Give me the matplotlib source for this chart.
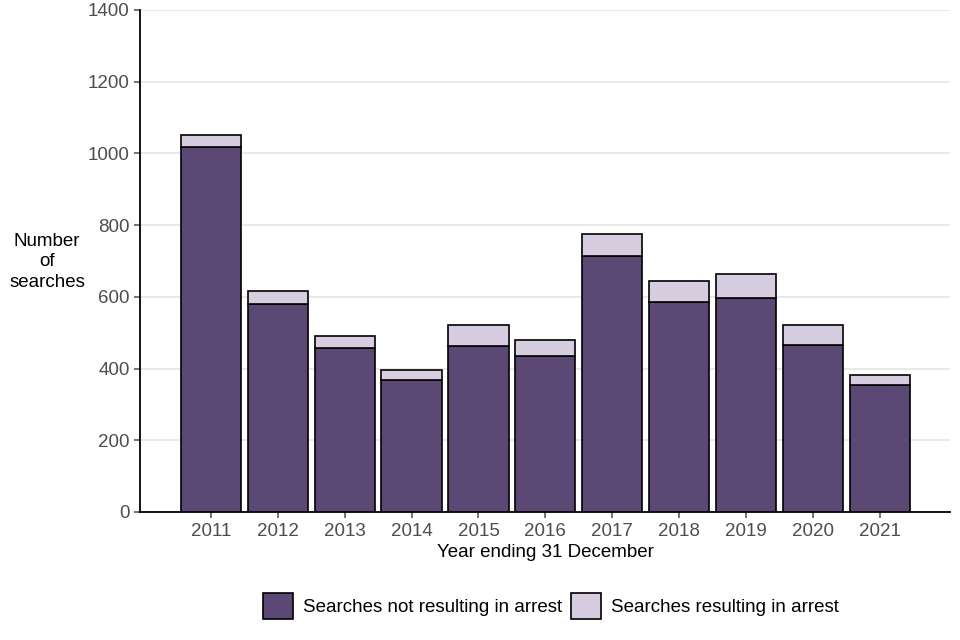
import matplotlib
matplotlib.use("Agg")
import matplotlib.pyplot as plt
import numpy as np

plt.rcParams['font.family'] = ['Liberation Sans', 'DejaVu Sans']

# values
years = ['2011', '2012', '2013', '2014', '2015', '2016', '2017', '2018', '2019', '2020', '2021']
not_arrest = [1019, 579, 457, 369, 464, 436, 715, 586, 598, 466, 355]
arrest = [33, 36, 35, 27, 57, 45, 61, 58, 66, 56, 27]
yticks = [0, 200, 400, 600, 800, 1000, 1200, 1400]

dark = '#5C4874'
light = '#D6CDE1'
grey = '#4D4D4D'

fig = plt.figure(figsize=(9.6, 6.4), dpi=100)
ax = fig.add_axes([140 / 960, 1 - 512 / 640, 810 / 960, 502 / 640])

x = np.arange(len(years))
ax.bar(x, not_arrest, width=0.9, color=dark, edgecolor='black', linewidth=1.2,
       label='Searches not resulting in arrest', zorder=3)
ax.bar(x, arrest, width=0.9, bottom=not_arrest, color=light, edgecolor='black',
       linewidth=1.2, label='Searches resulting in arrest', zorder=3)

ax.set_xlim(-1.06, len(years) - 1 + 1.05)
ax.set_ylim(0, 1400)
ax.set_yticks(yticks)
ax.set_xticks(x)
ax.set_xticklabels(years)
ax.yaxis.grid(True, color='#E5E5E5', linewidth=1.2, zorder=0)
ax.set_axisbelow(True)

for s in ['top', 'right']:
    ax.spines[s].set_visible(False)
ax.spines['left'].set_linewidth(1.3)
ax.spines['bottom'].set_linewidth(1.3)

ax.tick_params(axis='both', colors=grey, labelsize=13.5, length=4, width=1.1, labelcolor=grey)
ax.tick_params(axis='x', pad=4)

ax.set_xlabel('Year ending 31 December', fontsize=13.5, color='black', labelpad=3)
fig.text(47 / 960, 1 - 262 / 640, 'Number\nof\nsearches', ha='center', va='center',
         fontsize=13.5, color='black', linespacing=1.3)

fig.legend(loc='center', bbox_to_anchor=(0.574, 1 - 606 / 640), ncol=2, frameon=False,
           fontsize=13.5, handlelength=1.6, handleheight=1.8, handletextpad=0.5,
           columnspacing=0.5)

fig.savefig('out.png', dpi=100)
